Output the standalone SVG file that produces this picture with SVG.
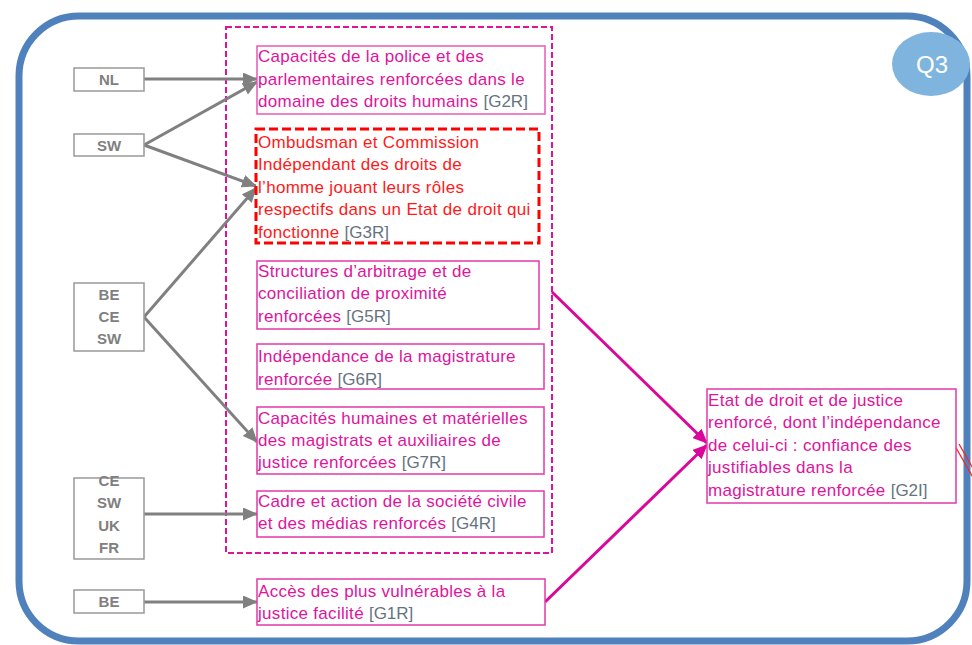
<svg xmlns="http://www.w3.org/2000/svg" width="972" height="645" viewBox="0 0 972 645">
<style>
.frame{fill:none;stroke:#4f81bd;stroke-width:7}
.grp{fill:none;stroke:#e0119a;stroke-width:2;stroke-dasharray:6 3}
.box{fill:#fff;stroke:#e23aa6;stroke-width:1.5}
.rbox{fill:#fff;stroke:#ff0000;stroke-width:3;stroke-dasharray:9 4}
.cbox{fill:#fff;stroke:#999;stroke-width:1.5}
.t{font-family:"Liberation Sans",Arial,sans-serif;font-size:17px;letter-spacing:0.3px;fill:#e0149c}
.tr{font-family:"Liberation Sans",Arial,sans-serif;font-size:17px;letter-spacing:0.3px;fill:#ff1a1a}
.code{fill:#66737f;font-size:17px;letter-spacing:0}
.c{font-family:"Liberation Sans",Arial,sans-serif;font-size:15px;fill:#808080;font-weight:bold;text-anchor:middle}
.ga{stroke:#808080;stroke-width:3;fill:none;marker-end:url(#ag)}
.ma{stroke:#d9089a;stroke-width:3;fill:none;marker-end:url(#am)}
.q{font-family:"Liberation Sans",Arial,sans-serif;font-size:24px;fill:#fff;text-anchor:middle}
</style>
<defs>
<marker id="ag" markerUnits="userSpaceOnUse" markerWidth="16" markerHeight="14" refX="14" refY="6.5" orient="auto"><path d="M0,0 L15,6.5 L0,13 z" fill="#808080"/></marker>
<marker id="am" markerUnits="userSpaceOnUse" markerWidth="16" markerHeight="14" refX="14" refY="6.5" orient="auto"><path d="M0,0 L15,6.5 L0,13 z" fill="#d9089a"/></marker>
</defs>
<rect width="972" height="645" fill="#fff"/>
<rect class="frame" x="19" y="16" width="948" height="625" rx="60" ry="60"/>
<g id="q3"><ellipse cx="931" cy="64" rx="39" ry="32" fill="#7fb4de"/><text class="q" x="932" y="73">Q3</text></g>
<rect id="group" class="grp" x="226" y="27" width="326" height="526"/>

<g id="connectors">
<line class="ga" x1="144" y1="79" x2="257" y2="79"/>
<line class="ga" x1="144" y1="145" x2="257" y2="82"/>
<line class="ga" x1="144" y1="145" x2="256" y2="186"/>
<line class="ga" x1="144" y1="317" x2="256" y2="188"/>
<line class="ga" x1="144" y1="317" x2="257" y2="442"/>
<line class="ga" x1="144" y1="514" x2="257" y2="514"/>
<line class="ga" x1="144" y1="602" x2="257" y2="602"/>
<line class="ma" x1="552" y1="292" x2="707" y2="443"/>
<line class="ma" x1="545" y1="602" x2="707" y2="445"/>
<line x1="955" y1="446" x2="975" y2="481" stroke="#ff2020" stroke-width="1.3"/>
<line x1="959" y1="444" x2="979" y2="479" stroke="#ff2020" stroke-width="1.3"/>
</g>

<g id="NL"><rect class="cbox" x="74" y="68" width="70" height="23"/><text class="c" x="109" y="85">NL</text></g>
<g id="SW"><rect class="cbox" x="74" y="134" width="70" height="22"/><text class="c" x="109" y="151">SW</text></g>
<g id="BE_CE_SW"><rect class="cbox" x="74" y="283" width="70" height="68"/><text class="c" x="109" y="300">BE</text><text class="c" x="109" y="322">CE</text><text class="c" x="109" y="344">SW</text></g>
<g id="CE_SW_UK_FR"><rect class="cbox" x="74" y="478" width="70" height="81"/><text class="c" x="109" y="486">CE</text><text class="c" x="109" y="508">SW</text><text class="c" x="109" y="531">UK</text><text class="c" x="109" y="553">FR</text></g>
<g id="BE"><rect class="cbox" x="74" y="590" width="70" height="23"/><text class="c" x="109" y="607">BE</text></g>

<g id="G2R"><rect class="box" x="257" y="46" width="288" height="68" style="stroke:#e65bb8"/>
<text class="t" x="258" y="62">Capacités de la police et des</text>
<text class="t" x="258" y="85">parlementaires renforcées dans le</text>
<text class="t" x="258" y="107">domaine des droits humains <tspan class="code">[G2R]</tspan></text></g>

<g id="G3R"><rect class="rbox" x="256" y="129" width="283" height="114"/>
<text class="tr" x="258" y="148">Ombudsman et Commission</text>
<text class="tr" x="258" y="170">Indépendant des droits de</text>
<text class="tr" x="258" y="193">l’homme jouant leurs rôles</text>
<text class="tr" x="258" y="215">respectifs dans un Etat de droit qui</text>
<text class="tr" x="258" y="238">fonctionne <tspan class="code">[G3R]</tspan></text></g>

<g id="G5R"><rect class="box" x="257" y="261" width="282" height="68"/>
<text class="t" x="258" y="277">Structures d’arbitrage et de</text>
<text class="t" x="258" y="299">conciliation de proximité</text>
<text class="t" x="258" y="322">renforcées <tspan class="code">[G5R]</tspan></text></g>

<g id="G6R"><rect class="box" x="257" y="344" width="287" height="45"/>
<text class="t" x="258" y="362">Indépendance de la magistrature</text>
<text class="t" x="258" y="385">renforcée <tspan class="code">[G6R]</tspan></text></g>

<g id="G7R"><rect class="box" x="257" y="407" width="287" height="67"/>
<text class="t" x="258" y="424">Capacités humaines et matérielles</text>
<text class="t" x="258" y="446">des magistrats et auxiliaires de</text>
<text class="t" x="258" y="468">justice renforcées <tspan class="code">[G7R]</tspan></text></g>

<g id="G4R"><rect class="box" x="257" y="491" width="287" height="46"/>
<text class="t" x="258" y="507">Cadre et action de la société civile</text>
<text class="t" x="258" y="529">et des médias renforcés <tspan class="code">[G4R]</tspan></text></g>

<g id="G1R"><rect class="box" x="257" y="579" width="288" height="46"/>
<text class="t" x="258" y="597">Accès des plus vulnérables à la</text>
<text class="t" x="258" y="619">justice facilité  <tspan class="code">[G1R]</tspan></text></g>

<g id="G2I"><rect class="box" x="707" y="389" width="249" height="114"/>
<text class="t" x="708" y="406">Etat de droit et de justice</text>
<text class="t" x="708" y="428">renforcé, dont l’indépendance</text>
<text class="t" x="708" y="451">de celui-ci : confiance des</text>
<text class="t" x="708" y="473">justifiables dans la</text>
<text class="t" x="708" y="496">magistrature renforcée <tspan class="code">[G2I]</tspan></text></g>
</svg>
